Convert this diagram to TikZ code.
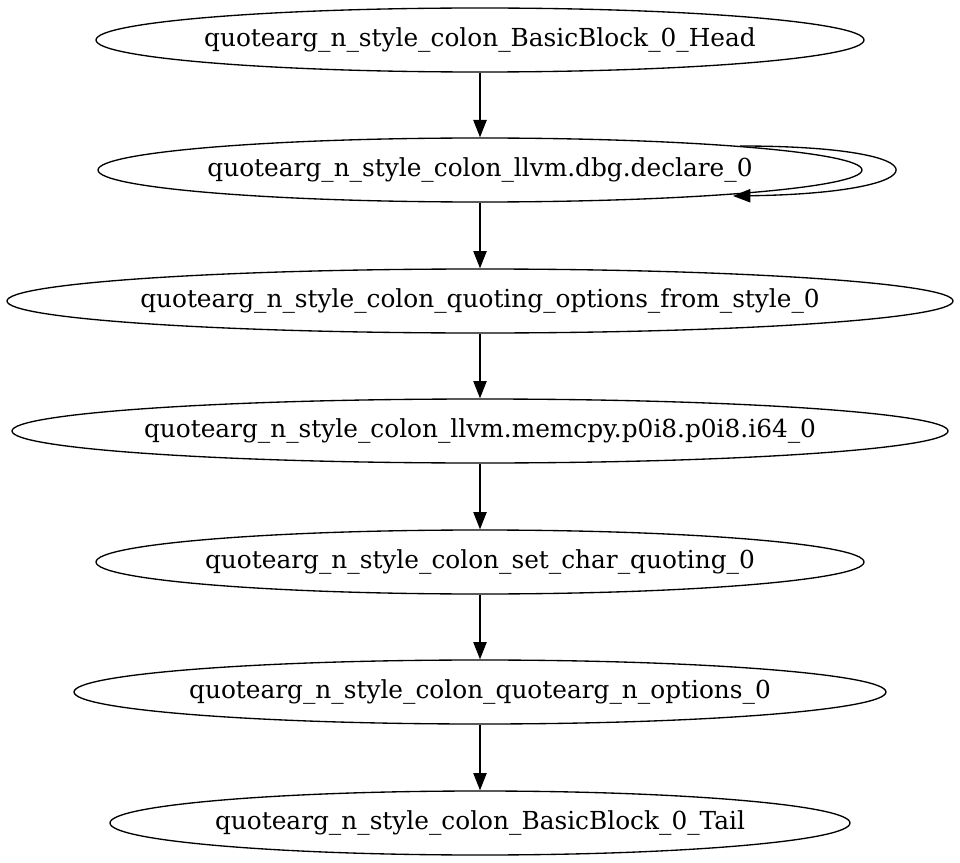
\documentclass[tikz,border=0pt]{standalone}
\usepackage{fontspec}
\setmainfont{DejaVu Serif}
\usetikzlibrary{shapes.geometric,arrows.meta}
\newcommand\gtxt[1]{\makebox[0pt][c]{\raisebox{-1.5pt}{#1}}}
\tikzset{
  gnode/.style={ellipse, draw, line width=1pt, inner sep=0pt, minimum height=48pt, font=\fontsize{18.6}{22}\selectfont},
  garrow/.style={line width=1pt, -{Triangle[length=13pt,width=10pt]}}
}
\begin{document}
\begin{tikzpicture}[x=0.75pt,y=-0.75pt]
\useasboundingbox (0,0) rectangle (960,863);
\node[gnode, minimum width=576pt] (n1) at (480,40) {\gtxt{quotearg\_n\_style\_colon\_BasicBlock\_0\_Head}};
\node[gnode, minimum width=573pt] (n2) at (480,170) {\gtxt{quotearg\_n\_style\_colon\_llvm.dbg.declare\_0}};
\node[gnode, minimum width=709.5pt] (n3) at (480,301) {\gtxt{quotearg\_n\_style\_colon\_quoting\_options\_from\_style\_0}};
\node[gnode, minimum width=702pt] (n4) at (480,431) {\gtxt{quotearg\_n\_style\_colon\_llvm.memcpy.p0i8.p0i8.i64\_0}};
\node[gnode, minimum width=576pt] (n5) at (480,562) {\gtxt{quotearg\_n\_style\_colon\_set\_char\_quoting\_0}};
\node[gnode, minimum width=609pt] (n6) at (480,692) {\gtxt{quotearg\_n\_style\_colon\_quotearg\_n\_options\_0}};
\node[gnode, minimum width=555pt] (n7) at (480,823) {\gtxt{quotearg\_n\_style\_colon\_BasicBlock\_0\_Tail}};
\draw[garrow] (n1) -- (n2);
\draw[garrow] (n2) -- (n3);
\draw[garrow] (n3) -- (n4);
\draw[garrow] (n4) -- (n5);
\draw[garrow] (n5) -- (n6);
\draw[garrow] (n6) -- (n7);
\coordinate (ls) at (740,146);
\coordinate (le) at (733,196);
\draw[garrow] (ls) .. controls (950,146) and (943,193) .. (le);
\end{tikzpicture}
\end{document}
